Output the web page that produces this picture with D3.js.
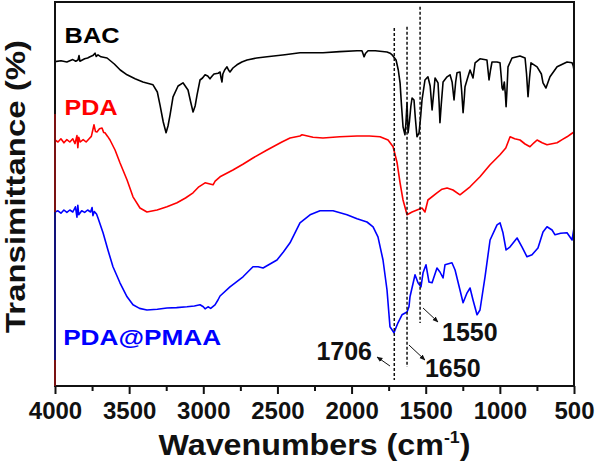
<!DOCTYPE html>
<html><head><meta charset="utf-8">
<script src="https://cdn.jsdelivr.net/npm/d3@7"></script>
<style>body{margin:0;background:#fff}svg{display:block}</style>
</head><body>
<svg id="c" width="596" height="468"></svg>
<script>
// ---- data (wavenumber cm-1, transmittance a.u.) ----
const bacData = [[4000,81.1],[3960,81.3],[3920,81],[3880,81.6],[3860,81.2],[3845,81.5],[3838,82.6],[3832,81.2],[3800,81.8],[3780,82],[3764,82.3],[3745,82.6],[3730,83.2],[3722,82.4],[3710,82.8],[3690,82.3],[3649,82],[3600,80.5],[3560,79],[3514,77.8],[3460,76.8],[3407,76],[3339,75.3],[3310,73.5],[3292,70.3],[3270,66],[3251,63.3],[3238,65],[3224,67.8],[3204,72.3],[3170,75],[3137,75.8],[3103,74],[3085,71],[3069,68.5],[3055,70],[3042,72.8],[3022,76.5],[3005,77],[2988,77.8],[2970,77.5],[2955,76.8],[2940,77.5],[2928,78],[2900,78.2],[2887,78.5],[2880,77],[2874,76],[2868,78],[2856,79],[2840,79.8],[2830,79],[2820,78.5],[2800,79.5],[2773,80.3],[2740,81],[2705,81.5],[2640,82],[2570,82.3],[2450,82.8],[2348,83.3],[2193,83.3],[2080,83.6],[1963,83.8],[1930,83.8],[1922,83],[1916,82.3],[1905,83.2],[1889,83.8],[1840,83.8],[1761,83.5],[1740,83.2],[1727,82.8],[1700,81.5],[1685,79],[1673,75.8],[1663,70],[1653,64.8],[1640,62.8],[1633,66],[1626,70.8],[1619,63.3],[1610,66],[1600,70],[1592,72],[1579,71.5],[1570,67],[1559,62.3],[1545,63.3],[1535,67],[1525,71.5],[1505,76.5],[1485,77.3],[1470,75],[1457,69],[1447,73],[1437,77],[1417,75.8],[1410,71],[1404,65.8],[1396,70],[1383,76],[1356,77.3],[1336,77.8],[1322,76],[1309,71.5],[1298,76],[1289,78.3],[1269,78.5],[1258,74],[1248,68.3],[1240,72],[1235,74.8],[1215,77.3],[1201,79],[1181,77],[1167,80.8],[1134,81.8],[1087,81.5],[1080,79],[1073,76.5],[1063,79],[1053,81],[1019,81],[999,80.8],[990,77],[985,74.5],[979,74],[970,76],[963,73],[958,69.8],[952,74],[945,79.8],[918,82],[864,82.5],[830,82],[820,78],[810,72.3],[800,77],[790,80.8],[749,79.8],[720,78],[709,75.8],[689,74.5],[662,77.3],[614,79.8],[547,81],[513,80.8],[505,80],[500,79]];
const pdaData = [[4000,61.5],[3980,61],[3960,61.8],[3940,60.8],[3920,61.6],[3900,61],[3880,61.8],[3865,60.6],[3852,62.6],[3846,59.6],[3840,62.2],[3830,61],[3810,61.6],[3790,61],[3770,61.8],[3755,62.4],[3745,64],[3737,65.3],[3727,63.6],[3717,63.5],[3700,64.3],[3683,64.5],[3672,63.4],[3663,63.3],[3645,62.4],[3629,61.5],[3595,59],[3562,55.8],[3514,51.5],[3474,47.3],[3427,44.5],[3380,43.5],[3312,44],[3245,44.8],[3177,45.8],[3120,47],[3069,48.3],[3030,49.8],[2988,50.8],[2955,50.5],[2934,50.3],[2920,51.2],[2887,52.3],[2800,54],[2730,55.5],[2665,57],[2570,59],[2470,61],[2415,62],[2348,62.5],[2334,62.8],[2260,62.2],[2193,62],[2080,62.3],[1963,62.5],[1880,62.5],[1808,62.3],[1754,61.5],[1720,59.8],[1693,55.8],[1673,50.8],[1653,46.5],[1626,42.8],[1592,43.5],[1559,44],[1525,44.5],[1505,43.5],[1485,46.5],[1424,48.3],[1390,49.2],[1356,49.5],[1316,49],[1269,47.8],[1235,48.8],[1201,49.8],[1134,52.3],[1066,55.3],[999,57.8],[960,59.5],[931,62.3],[900,61.8],[864,61.5],[830,60.5],[797,59.8],[770,60.8],[749,61.5],[715,60.8],[682,60.3],[614,60.8],[580,61.6],[547,62.3],[520,63],[500,63.5]];
const pmaaData = [[4000,43.5],[3980,43.8],[3960,43.2],[3940,44],[3920,43.4],[3900,44],[3880,43.5],[3862,44.8],[3852,42.2],[3846,45.2],[3840,42.8],[3820,43.8],[3800,43.4],[3780,44],[3760,43.5],[3750,44.6],[3744,42.6],[3735,43.6],[3720,43],[3710,42],[3676,38.3],[3643,34],[3609,29.8],[3562,25.8],[3514,22.3],[3474,20.3],[3430,19.4],[3380,19],[3310,19.2],[3245,19.5],[3180,19.6],[3110,19.8],[3060,20],[3022,20.3],[3000,19.8],[2988,19.3],[2968,19.8],[2950,19.4],[2921,20.3],[2901,21.5],[2887,22.5],[2820,24.8],[2732,27.3],[2665,29.8],[2630,29.8],[2597,29.5],[2503,31.5],[2460,33.5],[2415,35.8],[2348,40.8],[2280,42.8],[2213,43.8],[2125,43.8],[2031,42.8],[1963,41.8],[1896,41],[1855,39.8],[1822,37.3],[1788,31.5],[1761,24],[1741,14.8],[1714,13.3],[1687,15.8],[1660,17.8],[1626,18.5],[1613,19.8],[1606,22.3],[1572,27.8],[1552,25.8],[1532,24.8],[1518,28.3],[1498,30.3],[1478,26],[1457,25.8],[1424,29.5],[1404,28.5],[1383,27],[1370,30.3],[1323,30.8],[1302,29],[1269,24],[1248,20.8],[1221,23.3],[1201,24.5],[1181,21.5],[1154,17.8],[1134,19],[1100,27.3],[1066,36.5],[1019,40.3],[999,40.8],[979,38.3],[958,34],[931,34.8],[884,37],[851,34.8],[817,32.3],[783,32.8],[743,34.5],[709,38.5],[682,39.8],[648,39],[628,37.8],[590,38.2],[547,38.3],[513,36.5],[500,39.5]];
const seriesNames = ["BAC", "PDA", "PDA@PMAA"];
const seriesColors = ["#000000", "#ff0000", "#0000ff"];
const xTicks = [4000, 3500, 3000, 2500, 2000, 1500, 1000, 500];
const xMinorTicks = [3750, 3250, 2750, 2250, 1750, 1250, 750];
// dashed marker lines: wavenumber, top, bottom (transmittance units)
const markerPos = [1712, 1626, 1538];
const markerTop = [89.5, 89.8, 94.8];
const markerBottom = [1.5, 4.75, 15.75];
const markerLabels = ["1706", "1650", "1550"];

// ---- layout ----
const W = 596, H = 468;
const L = 55, R = 574, T = 2, B = 386;
const svg = d3.select("#c");
const x = d3.scaleLinear().domain([4000, 500]).range([L, R]);
const y = d3.scaleLinear().domain([0, 96]).range([B, T]);
const FONT = "'Liberation Sans', Arial, Helvetica, sans-serif";

function fitText(sel, w) {
  sel.attr("textLength", w).attr("lengthAdjust", "spacingAndGlyphs");
}

// curves
const line = d3.line().x(d => x(d[0])).y(d => y(d[1]));
[bacData, pdaData, pmaaData].forEach((data, i) => {
  svg.append("path").datum(data).attr("d", line)
    .attr("fill", "none").attr("stroke", seriesColors[i])
    .attr("stroke-width", 1.6).attr("stroke-linejoin", "round");
});

// dashed marker lines
markerPos.forEach((p, i) => {
  svg.append("line")
    .attr("x1", x(p)).attr("x2", x(p))
    .attr("y1", y(markerTop[i])).attr("y2", y(markerBottom[i]))
    .attr("stroke", "#111").attr("stroke-width", 1.5)
    .attr("stroke-dasharray", "3,2");
});

// arrows
const defs = svg.append("defs");
defs.append("marker").attr("id", "ah").attr("viewBox", "0 0 10 10")
  .attr("refX", 9).attr("refY", 5).attr("markerWidth", 6).attr("markerHeight", 6)
  .attr("orient", "auto").attr("markerUnits", "userSpaceOnUse")
  .append("path").attr("d", "M0,1 L10,5 L0,9 Z").attr("fill", "#111");
const arrows = [
  [[1741, 5], [1828, 7.25]],
  [[1613, 10.25], [1505, 6.5]],
  [[1518, 19.5], [1417, 16]]
];
arrows.forEach(a => {
  svg.append("line")
    .attr("x1", x(a[0][0])).attr("y1", y(a[0][1]))
    .attr("x2", x(a[1][0])).attr("y2", y(a[1][1]))
    .attr("stroke", "#111").attr("stroke-width", 1)
    .attr("marker-end", "url(#ah)");
});
// annotation labels
const annPos = [[1862, 6.5, "end"], [1505, 2.25, "start"], [1390, 11.25, "start"]];
markerLabels.forEach((t, i) => {
  svg.append("text").attr("x", x(annPos[i][0])).attr("y", y(annPos[i][1]))
    .attr("text-anchor", annPos[i][2])
    .attr("font-family", FONT).attr("font-weight", "bold").attr("font-size", 25)
    .attr("fill", "#111").text(t);
});

// series labels
const labelPos = [[3935, 85.75, 55], [3935, 67.75, 53], [3945, 10.25, 158]];
seriesNames.forEach((n, i) => {
  const t = svg.append("text").attr("x", x(labelPos[i][0])).attr("y", y(labelPos[i][1]))
    .attr("font-family", FONT).attr("font-weight", "bold").attr("font-size", 22)
    .attr("fill", seriesColors[i]).text(n);
  fitText(t, labelPos[i][2]);
});

// axes
const gx = svg.append("g").attr("transform", `translate(0,${B})`)
  .call(d3.axisBottom(x).tickValues(xTicks).tickSize(8).tickFormat(d3.format("d")));
gx.select(".domain").remove();
gx.selectAll(".tick line").attr("stroke", "#111").attr("stroke-width", 2);
gx.selectAll(".tick text").attr("y", 33).attr("dy", null)
  .attr("font-family", FONT).attr("font-weight", "bold").attr("font-size", 24).attr("fill", "#111");
const gxm = svg.append("g").attr("transform", `translate(0,${B})`)
  .call(d3.axisBottom(x).tickValues(xMinorTicks).tickSize(5).tickFormat(""));
gxm.select(".domain").remove();
gxm.selectAll(".tick line").attr("stroke", "#111").attr("stroke-width", 2);

// frame
svg.append("rect").attr("x", L).attr("y", T).attr("width", R - L).attr("height", B - T)
  .attr("fill", "none").attr("stroke", "#111").attr("stroke-width", 2);
// coloured left spine segments (curves meeting the axis)
const spine = [[96, 68, "#111"], [68, 43.5, "#7a1212"], [43.5, 6.5, "#12127a"], [6.5, 0, "#7a1212"]];
spine.forEach(s => {
  svg.append("line").attr("x1", L).attr("x2", L).attr("y1", y(s[0])).attr("y2", y(s[1]))
    .attr("stroke", s[2]).attr("stroke-width", 2);
});

// axis titles
const xt = svg.append("text").attr("font-family", FONT).attr("font-weight", "bold")
  .attr("font-size", 29).attr("fill", "#111");
xt.append("tspan").text("Wavenumbers (cm");
xt.append("tspan").attr("font-size", 16).attr("dy", -12).text("-1");
xt.append("tspan").attr("dy", 12).text(")");
const bw = xt.node().getBBox().width;
const sx = 312 / bw;
xt.attr("transform", `translate(${(L + R) / 2 - 312 / 2},455) scale(${sx},1)`);

const yt = svg.append("text").attr("font-family", FONT).attr("font-weight", "bold")
  .attr("font-size", 28).attr("fill", "#111").attr("text-anchor", "middle")
  .attr("transform", "translate(25,186.5) rotate(-90)").text("Transimittance (%)");
fitText(yt, 293);
</script>
</body></html>
